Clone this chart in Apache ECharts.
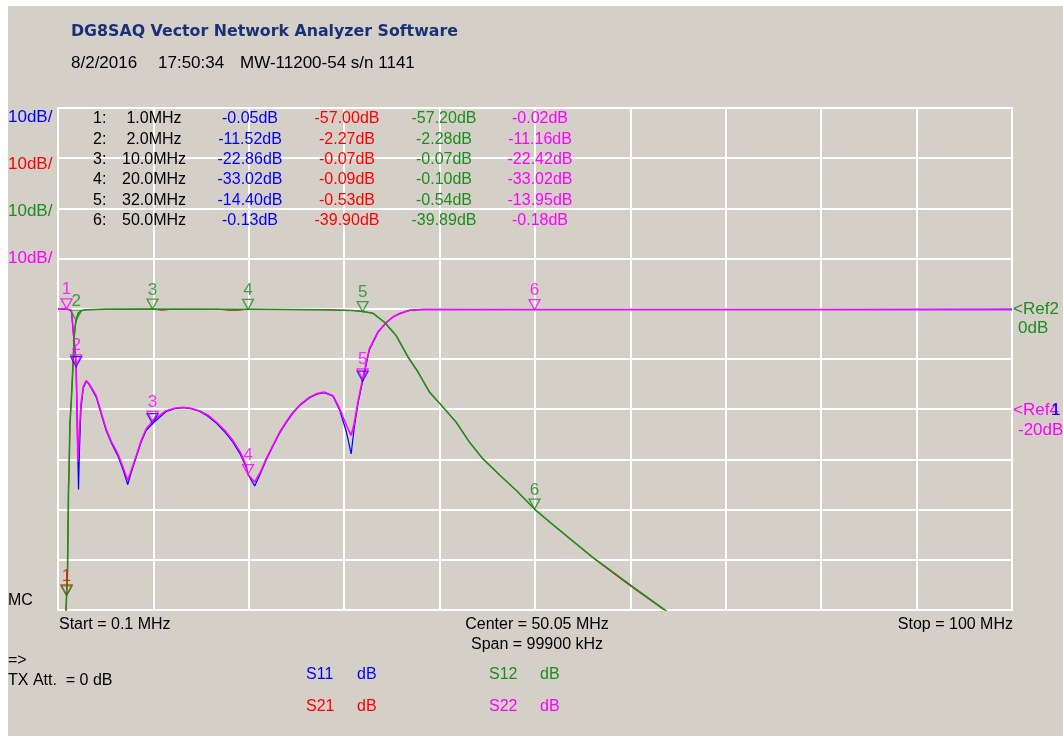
<!DOCTYPE html>
<html>
<head>
<meta charset="utf-8">
<script src="https://cdn.jsdelivr.net/npm/echarts@6/dist/echarts.min.js"></script>
<style>
	html, body { margin: 0; padding: 0; background: #fff; }
	#chart { position: absolute; left: 8px; top: 6px; width: 1055px; height: 730px; background: #d4d0c8; }
</style>
</head>
<body>
<div id="chart"></div>
<script>
// sweep settings (MHz)
var startFreq = 0.1;
var stopFreq = 100;

// y scale, 10dB/div, both ref lines at 0dB
var dbTicks = [-60, -50, -40, -30, -20, -10, 0, 10, 20, 30, 40];

var s11Data = [
	[0.1, -0.03], [1.0, -0.05], [1.5, -0.4], [1.6, -2.5], [1.75, -5.8], [1.9, -8.8], [2.0, -11.52],
	[2.1, -22], [2.25, -36], [2.35, -28], [2.5, -20], [2.75, -15.8], [3.05, -14.5], [3.3, -14.9],
	[3.7, -16.2], [4.1, -17.6], [4.6, -20.8], [5.15, -24.3], [5.7, -26.8], [6.37, -29.3], [6.9, -32],
	[7.4, -35], [7.8, -32.4], [8.3, -29.5], [8.8, -26.6], [9.34, -24.2], [10.0, -22.86], [11.4, -20.5],
	[12.3, -19.9], [13.2, -19.7], [14.0, -19.9], [14.9, -20.4], [15.8, -21.4], [16.7, -22.8],
	[17.6, -24.6], [18.4, -26.5], [19.2, -29], [19.8, -31.5], [20.0, -33.02], [20.7, -35.3],
	[21.3, -32.8], [21.9, -30.1], [22.6, -27.4], [23.3, -24.8], [24.0, -22.7], [24.7, -20.8],
	[25.5, -19.1], [26.45, -17.7], [27.2, -17], [28.0, -16.7], [28.9, -17.4], [29.6, -20.2],
	[30.3, -24.5], [30.8, -28.9], [31.1, -24], [31.5, -19], [32.0, -14.4], [32.7, -8.2], [33.6, -4.7],
	[34.5, -2.7], [35.2, -1.6], [35.9, -0.9], [36.9, -0.3], [38.3, -0.12], [50.0, -0.13], [80.0, -0.1],
	[100, -0.08]
];
var s22Data = [
	[0.1, -0.02], [1.0, -0.02], [1.5, -0.3], [1.6, -2], [1.75, -5.5], [1.9, -8.5], [2.0, -11.16],
	[2.1, -20], [2.18, -30.5], [2.3, -26], [2.5, -19], [2.75, -15.5], [3.05, -14.3], [3.3, -14.8],
	[3.7, -16], [4.1, -17.3], [4.6, -20.5], [5.15, -24], [5.7, -26.5], [6.37, -28.9], [6.9, -31.5],
	[7.4, -34.2], [7.8, -32], [8.3, -29.2], [8.8, -26.3], [9.34, -23.9], [10.0, -22.42], [11.4, -20.3],
	[12.3, -19.8], [13.2, -19.6], [14.0, -19.8], [14.9, -20.3], [15.8, -21.2], [16.7, -22.6],
	[17.6, -24.3], [18.4, -26.2], [19.2, -28.6], [19.8, -31.2], [20.0, -33.02], [20.7, -34.5],
	[21.3, -32.5], [21.9, -29.9], [22.6, -27.2], [23.3, -24.6], [24.0, -22.5], [24.7, -20.6],
	[25.5, -19], [26.45, -17.6], [27.2, -16.9], [28.0, -16.6], [28.9, -17.3], [29.6, -19.9],
	[30.3, -23.2], [30.8, -25.2], [31.1, -23], [31.5, -18.6], [32.0, -13.95], [32.7, -8], [33.6, -4.6],
	[34.5, -2.7], [35.2, -1.6], [35.9, -1], [36.9, -0.3], [38.3, -0.15], [50.0, -0.18], [80.0, -0.2],
	[100, -0.2]
];
var s21Data = [
	[0.1, -80], [0.8, -66], [1.0, -57.0], [1.1, -51.5], [1.2, -36], [1.25, -33], [1.35, -23],
	[1.5, -18], [1.65, -12], [1.8, -5.5], [1.9, -3.5], [2.0, -2.27], [2.2, -0.9], [2.5, -0.4],
	[3.0, -0.2], [5.0, -0.08], [10.0, -0.07], [11.0, -0.3], [12.0, -0.1], [17.0, -0.1], [18.0, -0.3],
	[19.0, -0.3], [20.0, -0.09], [28.0, -0.2], [31.0, -0.35], [32.0, -0.53], [33.1, -0.9], [34.3, -2.7],
	[35.5, -5.3], [36.75, -9.6], [37.8, -12.6], [39.0, -16.6], [40.1, -18.9], [41.8, -22.6],
	[43.2, -26.6], [44.6, -29.9], [46.4, -33.2], [48.1, -36.2], [50.0, -39.9], [51.6, -42.5],
	[53.7, -45.8], [56.1, -49.6], [58.6, -53.2], [60.3, -55.6], [63.5, -59.9], [66.0, -63], [70.0, -68]
];
var s12Data = [
	[0.1, -80], [0.8, -66], [1.0, -57.2], [1.1, -52], [1.2, -36], [1.25, -33], [1.35, -23],
	[1.5, -18], [1.65, -12], [1.8, -5.5], [1.9, -3.5], [2.0, -2.28], [2.2, -0.9], [2.5, -0.4],
	[3.0, -0.2], [5.0, -0.08], [10.0, -0.07], [20.0, -0.1], [28.0, -0.2], [31.0, -0.35], [32.0, -0.54],
	[33.1, -0.9], [34.3, -2.7], [35.5, -5.3], [36.75, -9.6], [37.8, -12.6], [39.0, -16.6],
	[40.1, -18.9], [41.8, -22.6], [43.2, -26.6], [44.6, -29.9], [46.4, -33.2], [48.1, -36.2],
	[50.0, -39.89], [51.6, -42.5], [53.7, -45.8], [56.1, -49.5], [58.6, -53], [60.3, -55.4],
	[63.5, -59.8], [66.0, -63], [70.0, -68]
];

// marker table
var markerFreq = [1.0, 2.0, 10.0, 20.0, 32.0, 50.0];
var s11Mk = [-0.05, -11.52, -22.86, -33.02, -14.40, -0.13];
var s21Mk = [-57.00, -2.27, -0.07, -0.09, -0.53, -39.90];
var s12Mk = [-57.20, -2.28, -0.07, -0.10, -0.54, -39.89];
var s22Mk = [-0.02, -11.16, -22.42, -33.02, -13.95, -0.18];

var colBlue = '#0000ff';
var colRed = '#ff0000';
var colGreen = '#1e8c1e';
var colMag = '#ff00ff';
var font = '"Liberation Sans", Arial, sans-serif';

function txt(text, x, y, color, size, align, weight, family) {
	return {
		type: 'text',
		style: {
			text: text, x: x - 8, y: y - 6,
			fill: color,
			font: (weight || 'normal') + ' ' + size + 'px ' + (family || font),
			align: align || 'left',
			verticalAlign: 'middle'
		},
		z: 100
	};
}

// shown: marker numbers drawn for this trace, labelled: ones with a number on top
function markerSeries(name, vals, color, shown, labelled) {
	var data = [];
	markerFreq.forEach(function (f, i) {
		if (shown.indexOf(i + 1) < 0) return;
		data.push({
			value: [f, vals[i], i + 1],
			label: { show: labelled.indexOf(i + 1) >= 0 }
		});
	});
	return {
		name: name + ' mk',
		type: 'scatter',
		xAxisIndex: 0,
		data: data,
		symbol: 'path://M0,0 L10,0 L5,9 Z',
		symbolSize: [11, 10],
		symbolOffset: [0, -5],
		itemStyle: { color: 'rgba(0,0,0,0)', borderColor: color, borderWidth: 1.3 },
		label: {
			position: 'top', distance: 0,
			formatter: function (p) { return p.value[2]; },
			color: color, fontSize: 17, fontFamily: font
		},
		z: 10
	};
}

function traceSeries(name, data, color, width, z) {
	return {
		name: name,
		type: 'line',
		xAxisIndex: 0,
		data: data,
		showSymbol: false,
		lineStyle: { color: color, width: width },
		clip: true,
		z: z
	};
}

var chart = echarts.init(document.getElementById('chart'));

var graphics = [
	txt('DG8SAQ Vector Network Analyzer Software', 71, 32, '#1a3178', 15.8, 'left', 'bold', '"DejaVu Sans", sans-serif'),
	txt('8/2/2016', 71, 63, '#000', 17),
	txt('17:50:34', 158, 63, '#000', 17),
	txt('MW-11200-54 s/n 1141', 240, 63, '#000', 17),
	txt('10dB/', 8, 117, colBlue, 17),
	txt('10dB/', 8, 164, colRed, 17),
	txt('10dB/', 8, 211, colGreen, 17),
	txt('10dB/', 8, 258, colMag, 17),
	txt('<Ref2', 1013, 309, colGreen, 17),
	txt('0dB', 1018, 328, colGreen, 17),
	txt('<Ref4', 1013, 410, colMag, 17),
	txt('1', 1051, 410, colBlue, 17),
	txt('-20dB', 1018, 430, colMag, 17),
	txt('MC', 8, 601, '#000', 16),
	txt('Start = ' + startFreq + ' MHz', 59, 625, '#000', 16),
	txt('Center = ' + ((startFreq + stopFreq) / 2).toFixed(2) + ' MHz', 537, 625, '#000', 16, 'center'),
	txt('Span = ' + Math.round((stopFreq - startFreq) * 1000) + ' kHz', 537, 645, '#000', 16, 'center'),
	txt('Stop = ' + stopFreq + ' MHz', 1013, 625, '#000', 16, 'right'),
	txt('=>', 8, 661, '#000', 16),
	txt('TX Att.  = 0 dB', 8, 681, '#000', 16),
	txt('S11', 306, 675, colBlue, 16),
	txt('dB', 357, 675, colBlue, 16),
	txt('S12', 489, 675, colGreen, 16),
	txt('dB', 540, 675, colGreen, 16),
	txt('S21', 306, 707, colRed, 16),
	txt('dB', 357, 707, colRed, 16),
	txt('S22', 489, 707, colMag, 16),
	txt('dB', 540, 707, colMag, 16)
];

// marker readout table
markerFreq.forEach(function (f, i) {
	var y = 119 + i * 20.3;
	graphics.push(txt((i + 1) + ':', 93, y, '#000', 16));
	graphics.push(txt(f.toFixed(1) + 'MHz', 154, y, '#000', 16, 'center'));
	graphics.push(txt(s11Mk[i].toFixed(2) + 'dB', 250, y, colBlue, 16, 'center'));
	graphics.push(txt(s21Mk[i].toFixed(2) + 'dB', 347, y, colRed, 16, 'center'));
	graphics.push(txt(s12Mk[i].toFixed(2) + 'dB', 444, y, colGreen, 16, 'center'));
	graphics.push(txt(s22Mk[i].toFixed(2) + 'dB', 540, y, colMag, 16, 'center'));
});

var option = {
	backgroundColor: '#d4d0c8',
	animation: false,
	grid: {
		left: 50, right: 51, top: 102, bottom: 126,
		show: true, borderColor: '#ffffff', borderWidth: 2,
		backgroundColor: 'transparent'
	},
	xAxis: [
		{
			type: 'value', min: startFreq, max: stopFreq,
			axisLine: { show: false }, axisTick: { show: false },
			axisLabel: { show: false }, splitLine: { show: false }
		},
		{
			// 10 divisions grid
			type: 'value', min: 0, max: 10, interval: 1,
			axisLine: { show: false }, axisTick: { show: false },
			axisLabel: { show: false },
			splitLine: { show: true, lineStyle: { color: '#ffffff', width: 2 } }
		}
	],
	yAxis: {
		type: 'value', min: dbTicks[0], max: dbTicks[dbTicks.length - 1], interval: 10,
		axisLine: { show: false }, axisTick: { show: false },
		axisLabel: { show: false },
		splitLine: { show: true, lineStyle: { color: '#ffffff', width: 2 } }
	},
	graphic: graphics,
	series: [
		traceSeries('S11', s11Data, colBlue, 1.2, 2),
		traceSeries('S22', s22Data, colMag, 1.6, 3),
		traceSeries('S21', s21Data, colRed, 1, 4),
		traceSeries('S12', s12Data, colGreen, 1.6, 5),
		markerSeries('S11', s11Mk, colBlue, [2, 3, 5], []),
		markerSeries('S21', s21Mk, colRed, [1], [1]),
		markerSeries('S12', s12Mk, colGreen, [1, 2, 3, 4, 5, 6], [2, 3, 4, 5, 6]),
		markerSeries('S22', s22Mk, colMag, [1, 2, 3, 4, 5, 6], [1, 2, 3, 4, 5, 6])
	]
};

chart.setOption(option);
</script>
</body>
</html>
